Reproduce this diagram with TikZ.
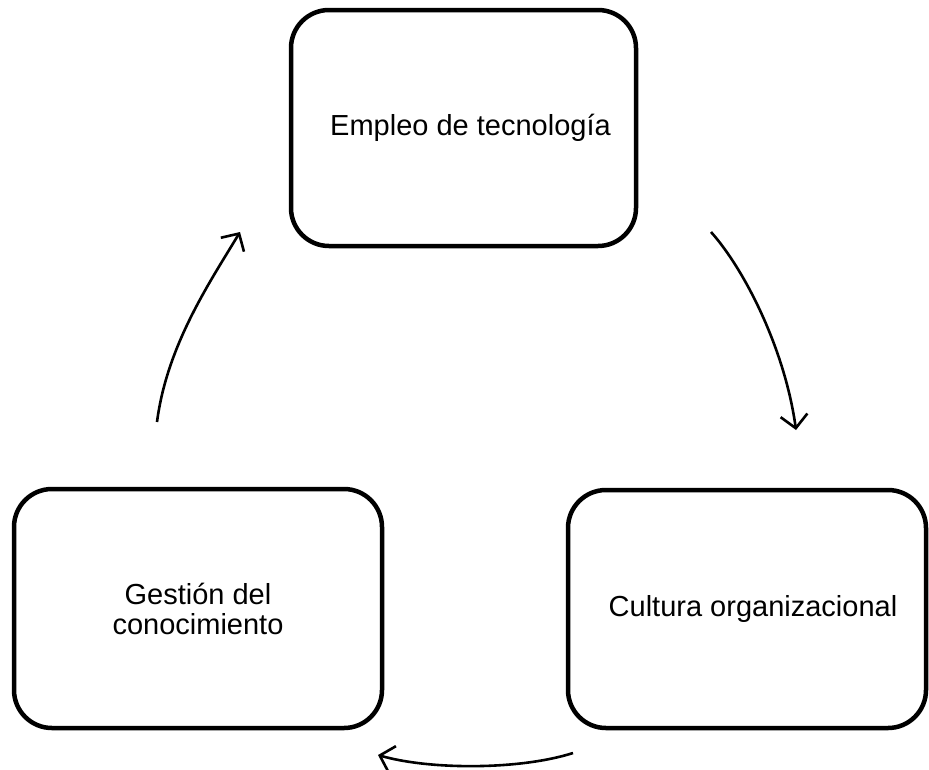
\documentclass[tikz,border=0pt]{standalone}
\usepackage{fontspec}
\setmainfont{Liberation Sans}
\usetikzlibrary{arrows.meta}
\begin{document}
\begin{tikzpicture}[x=1pt,y=-1pt,
  box/.style={draw=black, line width=4.5pt, rounded corners=38pt, rectangle, inner sep=0pt},
  label text/.style={align=center, inner sep=0pt, font=\fontsize{29}{30}\selectfont},
  flow/.style={line width=2.6pt, -{Straight Barb[length=13pt,width=27pt,line width=2.6pt]}}]
\useasboundingbox (0,0) rectangle (929,769);
\node[box, minimum width=345pt, minimum height=236pt] (tec) at (463.5,128) {};
\node[box, minimum width=368pt, minimum height=239pt] (ges) at (198,608.5) {};
\node[box, minimum width=358pt, minimum height=238pt] (cul) at (747,609) {};
\node[label text, xshift=7pt] (tecT) at (tec.center) {Empleo de tecnología};
\node[label text] (gesT) at (ges.center) {Gestión del\\conocimiento};
\node[label text, xshift=6pt] (culT) at (cul.center) {Cultura organizacional};
\coordinate (a1s) at (157,422);
\coordinate (a1e) at (240,232);
\coordinate (a2s) at (711,232);
\coordinate (a2e) at (796,430);
\coordinate (a3s) at (573,753);
\coordinate (a3e) at (378,755);
\draw[flow] (a1s) .. controls (167,345) and (210,282) .. (a1e);
\draw[flow] (a2s) .. controls (745,270) and (785,350) .. (a2e);
\draw[flow] (a3s) .. controls (520,770) and (430,770) .. (a3e);
\end{tikzpicture}
\end{document}
